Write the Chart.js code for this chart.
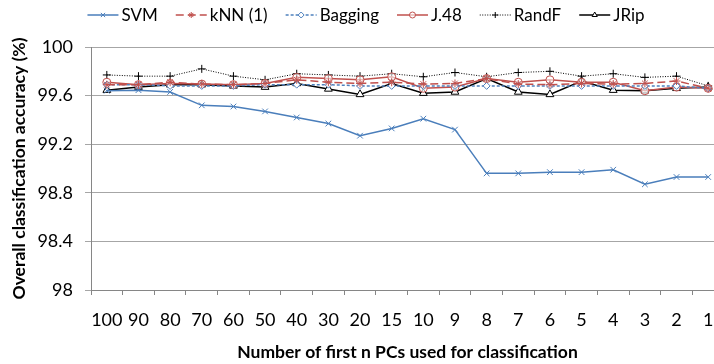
<!DOCTYPE html>
<html>
<head>
<meta charset="utf-8">
<script src="https://cdn.jsdelivr.net/npm/chart.js@4.4.0/dist/chart.umd.min.js"></script>
<style>
    html, body { margin: 0; padding: 0; background: #fff; overflow: hidden; }
    #marco { position: relative; width: 730px; height: 364px; }
</style>
</head>
<body>
<div id="marco"><canvas id="grafico"></canvas></div>
<script>
// Datos
const categorias = ['100', '90', '80', '70', '60', '50', '40', '30', '20', '15', '10', '9', '8', '7', '6', '5', '4', '3', '2', '1'];
const valoresEjeY = [98, 98.4, 98.8, 99.2, 99.6, 100];

const svm = [99.64, 99.645, 99.63, 99.52, 99.51, 99.47, 99.42, 99.37, 99.27, 99.33, 99.41, 99.32, 98.96, 98.96, 98.97, 98.97, 98.99, 98.87, 98.93, 98.93];
const knn = [99.69, 99.69, 99.71, 99.695, 99.69, 99.70, 99.73, 99.71, 99.70, 99.71, 99.695, 99.70, 99.74, 99.695, 99.69, 99.70, 99.695, 99.70, 99.72, 99.66];
const bagging = [99.69, 99.69, 99.68, 99.68, 99.68, 99.69, 99.69, 99.69, 99.68, 99.68, 99.68, 99.68, 99.68, 99.68, 99.68, 99.68, 99.68, 99.68, 99.68, 99.66];
const j48 = [99.71, 99.69, 99.70, 99.695, 99.69, 99.70, 99.75, 99.74, 99.73, 99.755, 99.66, 99.67, 99.74, 99.71, 99.73, 99.71, 99.71, 99.64, 99.67, 99.66];
const randf = [99.77, 99.76, 99.76, 99.82, 99.76, 99.73, 99.78, 99.77, 99.76, 99.78, 99.755, 99.79, 99.755, 99.79, 99.80, 99.76, 99.78, 99.75, 99.76, 99.68];
const jrip = [99.645, 99.67, 99.69, 99.69, 99.68, 99.67, 99.70, 99.655, 99.61, 99.70, 99.62, 99.63, 99.74, 99.63, 99.61, 99.72, 99.645, 99.64, 99.66, 99.67];

const fuente = 'Lato, "Liberation Sans", sans-serif';
const azul = '#4A7EBB';
const rojo = '#C0504D';

// Leyenda al estilo Excel: trozo de línea con marcador y texto
const leyendaExcel = {
    id: 'leyendaExcel',
    afterDraw(chart) {
        const ctx = chart.ctx;
        const centro = 366, yCentro = 15, largo = 31, hueco = 3, separacion = 18;
        ctx.save();
        ctx.font = '17px ' + fuente;
        const items = chart.data.datasets.map(ds => ({ ds: ds, ancho: ctx.measureText(ds.label).width }));
        const total = items.reduce((s, it) => s + largo + hueco + it.ancho, 0) + separacion * (items.length - 1);
        let x = centro - total / 2;
        items.forEach(({ ds, ancho }) => {
            ctx.setLineDash(ds.borderDash || []);
            ctx.strokeStyle = ds.borderColor;
            ctx.lineWidth = ds.borderWidth;
            ctx.beginPath();
            ctx.moveTo(x, yCentro);
            ctx.lineTo(x + largo, yCentro);
            ctx.stroke();
            ctx.setLineDash([]);
            ctx.fillStyle = ds.pointBackgroundColor;
            ctx.strokeStyle = ds.pointBorderColor;
            ctx.lineWidth = 1;
            Chart.helpers.drawPoint(ctx, { pointStyle: ds.pointStyle, radius: 3, borderWidth: 1, rotation: 0 }, x + largo / 2, yCentro);
            ctx.fillStyle = '#000';
            ctx.textBaseline = 'middle';
            ctx.textAlign = 'left';
            ctx.fillText(ds.label, x + largo + hueco, yCentro + 1);
            x += largo + hueco + ancho + separacion;
        });
        ctx.restore();
    }
};

function serie(etiqueta, datos, color, estilo, guiones, ancho, radio, relleno) {
    return {
        label: etiqueta,
        data: datos,
        borderColor: color,
        borderWidth: ancho,
        borderDash: guiones,
        pointStyle: estilo,
        pointRadius: radio,
        pointBorderColor: color,
        pointBackgroundColor: relleno,
        pointBorderWidth: 1,
        tension: 0,
        fill: false
    };
}

const ctx = document.getElementById('grafico').getContext('2d');
new Chart(ctx, {
    type: 'line',
    data: {
        labels: categorias,
        datasets: [
            serie('SVM', svm, azul, 'crossRot', [], 1.5, 4, 'rgba(255,255,255,0)'),
            serie('kNN (1)', knn, rojo, 'star', [8, 4], 1.5, 4, 'rgba(255,255,255,0)'),
            serie('Bagging', bagging, '#4F81BD', 'rectRot', [3, 2], 1.5, 3.5, '#fff'),
            serie('J.48', j48, rojo, 'circle', [], 1.5, 4, 'rgba(255,255,255,0.6)'),
            serie('RandF', randf, '#000', 'cross', [1, 1.5], 1, 4, 'rgba(255,255,255,0)'),
            serie('JRip', jrip, '#000', 'triangle', [], 1.5, 4.5, '#fff')
        ]
    },
    options: {
        responsive: true,
        maintainAspectRatio: false,
        animation: false,
        layout: { padding: { top: 47, right: 6, left: 0, bottom: 0 } },
        plugins: {
            legend: { display: false },
            tooltip: { enabled: false }
        },
        scales: {
            x: {
                offset: true,
                grid: { offset: true, drawOnChartArea: false, drawTicks: true, tickLength: 5, color: '#868686' },
                border: { color: '#868686', width: 1 },
                ticks: { color: '#000', font: { family: fuente, size: 18 }, padding: 14, maxRotation: 0, autoSkip: false },
                title: {
                    display: true,
                    text: 'Number of first n PCs used for classification',
                    color: '#000',
                    font: { family: fuente, size: 17.5, weight: 'bold' },
                    padding: { top: 0, bottom: 1 }
                },
                afterFit(s) { s.height = 74; }
            },
            y: {
                min: 98,
                max: 100,
                afterBuildTicks(s) { s.ticks = valoresEjeY.map(v => ({ value: v })); },
                grid: { color: '#A6A6A6', tickLength: 6, drawTicks: true },
                border: { color: '#868686', width: 1 },
                ticks: { color: '#000', font: { family: fuente, size: 18 }, padding: 12, callback: v => String(v) },
                title: {
                    display: true,
                    text: 'Overall classification accuracy (%)',
                    color: '#000',
                    font: { family: fuente, size: 17.5, weight: 'bold' },
                    padding: { top: 9, bottom: 0 }
                },
                afterFit(s) { s.width = 91; }
            }
        }
    },
    plugins: [leyendaExcel]
});
</script>
</body>
</html>
